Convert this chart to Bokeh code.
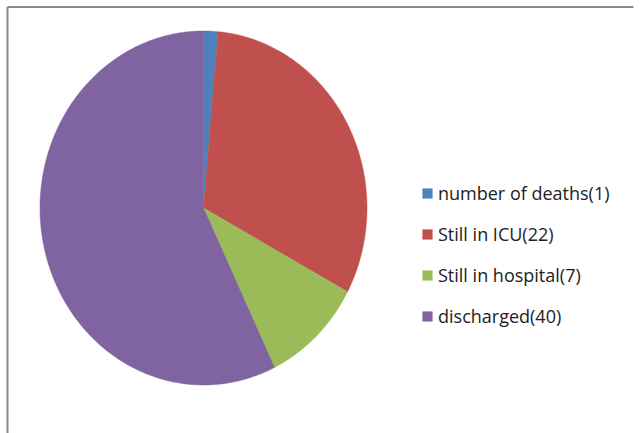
import numpy as np
from bokeh.plotting import figure
from bokeh.models import Range1d, Legend, LegendItem
from bokeh.embed import file_html
from bokeh.resources import INLINE

# Data
categories = ["number of deaths(1)", "Still in ICU(22)", "Still in hospital(7)", "discharged(40)"]
values = [1, 22, 7, 40]
colors = ["#4F81BD", "#C0504D", "#9BBB59", "#8064A2"]

W, H = 642, 433
p = figure(width=W, height=H, output_backend="svg", toolbar_location=None,
           x_range=Range1d(0, W), y_range=Range1d(H, 0),
           x_axis_location=None, y_axis_location=None, min_border=0)
p.grid.visible = False
p.outline_line_color = None
p.background_fill_color = "white"
p.border_fill_color = "white"

# chart frame (top and left edges visible)
p.segment(x0=[7, 7], y0=[6.5, 6.5], x1=[633, 7], y1=[6.5, 433],
          line_color="#8a8a8a", line_width=2)

# pie (slightly elliptical, as in the reference)
cx, cy, rx, ry = 203, 207.5, 163.5, 177
vals = np.array(values, dtype=float)
frac = np.cumsum(np.concatenate([[0], vals])) / vals.sum()
renderers = []
for i in range(len(vals)):
    t = np.linspace(frac[i], frac[i + 1], 200) * 2 * np.pi
    xs = np.concatenate([[cx], cx + rx * np.sin(t)])
    ys = np.concatenate([[cy], cy - ry * np.cos(t)])
    r = p.patch(xs, ys, fill_color=colors[i], line_color=colors[i], line_width=0.5)
    renderers.append(r)

legend = Legend(items=[LegendItem(label=categories[i], renderers=[renderers[i]]) for i in range(len(vals))],
                location=(421, 105), orientation="vertical",
                glyph_width=12, glyph_height=12, label_height=24, spacing=17,
                label_standoff=5, padding=0, margin=0,
                border_line_color=None, background_fill_alpha=0,
                label_text_font="Open Sans", label_text_font_size="18px",
                label_text_color="#222222")
p.add_layout(legend, "center")

open("out.html", "w").write(file_html(p, INLINE))
